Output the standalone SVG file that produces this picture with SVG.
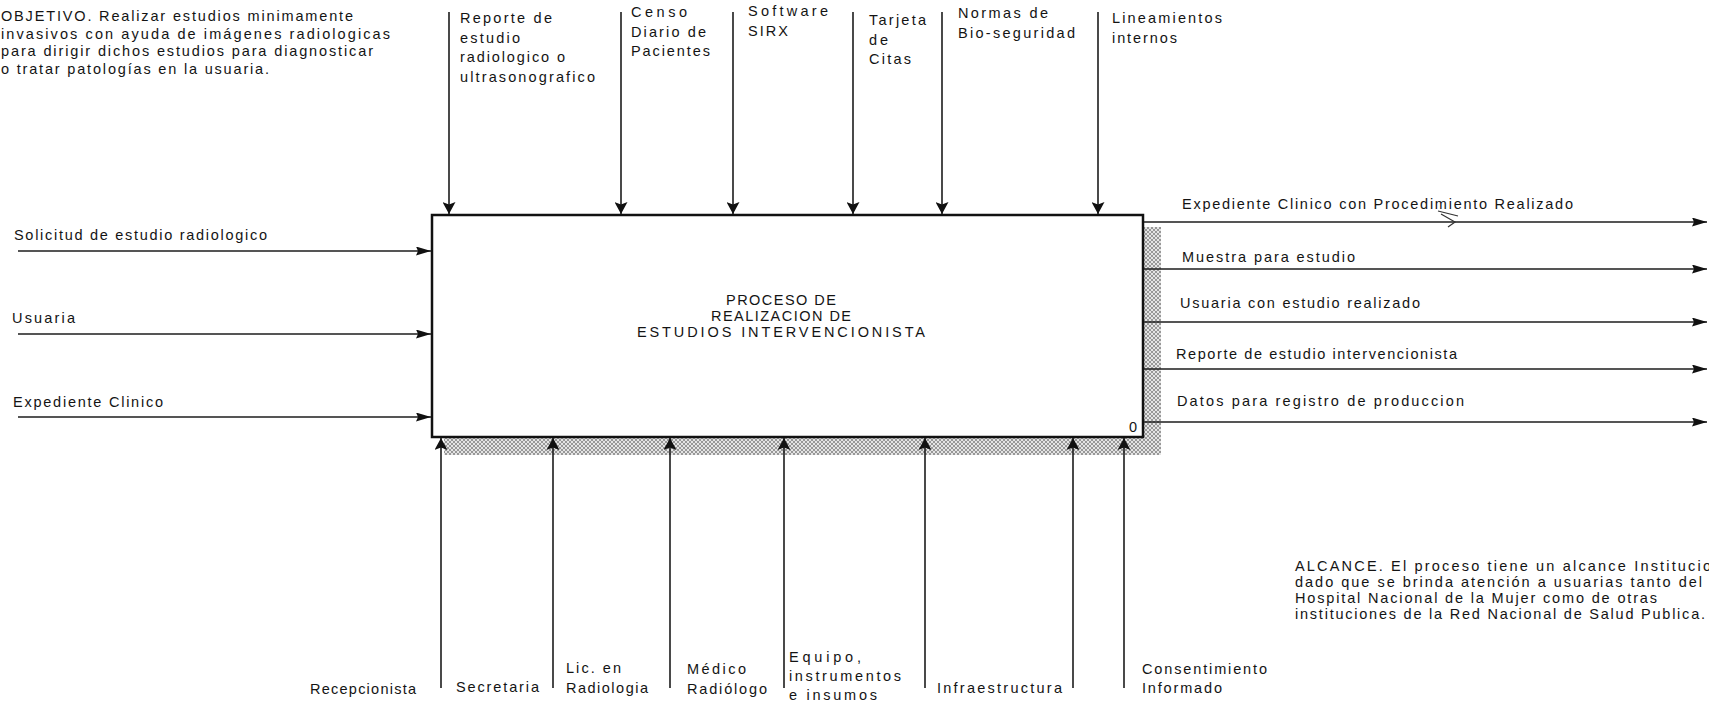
<svg xmlns="http://www.w3.org/2000/svg" width="1709" height="701" viewBox="0 0 1709 701">
<defs>
<style>
text { font-family: "Liberation Sans", Arial, sans-serif; font-size: 14.5px; fill: #141414; }
.ln { stroke: #1c1c1c; stroke-width: 1.6; fill: none; }
.box { fill: #ffffff; stroke: #111111; stroke-width: 2.5; }
.hatch { fill: url(#hatch); stroke: none; }
.mid { text-anchor: middle; }
</style>
<pattern id="hatch" width="4" height="4" patternUnits="userSpaceOnUse">
<rect width="4" height="4" fill="#e4e4e4"/>
<path d="M0,0 L4,4 M4,0 L0,4" stroke="#858585" stroke-width="0.8"/>
</pattern>
<marker id="arv" viewBox="0 0 12 13" refX="12" refY="6.5" markerWidth="12" markerHeight="13" markerUnits="userSpaceOnUse" orient="auto">
<path d="M0,0 L12,6.5 L0,13 L2.5,6.5 z" fill="#111111"/>
</marker>
<marker id="arh" viewBox="0 0 15 9" refX="15" refY="4.5" markerWidth="15" markerHeight="9" markerUnits="userSpaceOnUse" orient="auto">
<path d="M0,0 L15,4.5 L0,9 L2,4.5 z" fill="#111111"/>
</marker>
</defs>
<rect width="1709" height="701" fill="#ffffff"/>

<g id="objetivo">
<text x="1" y="21" textLength="352" lengthAdjust="spacing">OBJETIVO. Realizar estudios minimamente</text>
<text x="1" y="38.5" textLength="389" lengthAdjust="spacing">invasivos con ayuda de imágenes radiologicas</text>
<text x="1" y="56" textLength="372" lengthAdjust="spacing">para dirigir dichos estudios para diagnosticar</text>
<text x="1" y="73.5" textLength="268" lengthAdjust="spacing">o tratar patologías en la usuaria.</text>
</g>

<g id="alcance">
<text x="1295" y="571" textLength="416" lengthAdjust="spacing">ALCANCE. El proceso tiene un alcance Institucio</text>
<text x="1295" y="587" textLength="407" lengthAdjust="spacing">dado que se brinda atención a usuarias tanto del</text>
<text x="1295" y="603" textLength="362" lengthAdjust="spacing">Hospital Nacional de la Mujer como de otras</text>
<text x="1295" y="619" textLength="410" lengthAdjust="spacing">instituciones de la Red Nacional de Salud Publica.</text>
</g>

<g id="A0">
<rect class="hatch" x="1143" y="227" width="18" height="228"/>
<rect class="hatch" x="444" y="437" width="717" height="18"/>
<rect class="box" x="432" y="215" width="711" height="222"/>
<text class="mid" x="781" y="305" textLength="110" lengthAdjust="spacing">PROCESO DE</text>
<text class="mid" x="781" y="321" textLength="140" lengthAdjust="spacing">REALIZACION DE</text>
<text class="mid" x="781" y="337" textLength="288" lengthAdjust="spacing">ESTUDIOS INTERVENCIONISTA</text>
<text x="1129" y="432">0</text>
</g>

<g id="connectors">
<g id="controls">
<line class="ln" x1="449" y1="12" x2="449" y2="214" marker-end="url(#arv)"/>
<line class="ln" x1="621" y1="12" x2="621" y2="214" marker-end="url(#arv)"/>
<line class="ln" x1="733" y1="12" x2="733" y2="214" marker-end="url(#arv)"/>
<line class="ln" x1="853" y1="12" x2="853" y2="214" marker-end="url(#arv)"/>
<line class="ln" x1="942" y1="12" x2="942" y2="214" marker-end="url(#arv)"/>
<line class="ln" x1="1098" y1="12" x2="1098" y2="214" marker-end="url(#arv)"/>
</g>
<g id="mechanisms">
<line class="ln" x1="441" y1="688" x2="441" y2="438" marker-end="url(#arv)"/>
<line class="ln" x1="553" y1="688" x2="553" y2="438" marker-end="url(#arv)"/>
<line class="ln" x1="670" y1="688" x2="670" y2="438" marker-end="url(#arv)"/>
<line class="ln" x1="784" y1="688" x2="784" y2="438" marker-end="url(#arv)"/>
<line class="ln" x1="925" y1="688" x2="925" y2="438" marker-end="url(#arv)"/>
<line class="ln" x1="1073" y1="688" x2="1073" y2="438" marker-end="url(#arv)"/>
<line class="ln" x1="1124" y1="688" x2="1124" y2="438" marker-end="url(#arv)"/>
</g>
<g id="inputs">
<line class="ln" x1="18" y1="251" x2="431" y2="251" marker-end="url(#arh)"/>
<line class="ln" x1="18" y1="334" x2="431" y2="334" marker-end="url(#arh)"/>
<line class="ln" x1="18" y1="417" x2="431" y2="417" marker-end="url(#arh)"/>
</g>
<g id="outputs">
<line class="ln" x1="1144" y1="222" x2="1707" y2="222" marker-end="url(#arh)"/>
<line class="ln" x1="1144" y1="269" x2="1707" y2="269" marker-end="url(#arh)"/>
<line class="ln" x1="1144" y1="322" x2="1707" y2="322" marker-end="url(#arh)"/>
<line class="ln" x1="1144" y1="369" x2="1707" y2="369" marker-end="url(#arh)"/>
<line class="ln" x1="1144" y1="422" x2="1707" y2="422" marker-end="url(#arh)"/>
<path d="M1438,211 L1458,216 M1441,214 L1455,222 L1448,227" stroke="#333" stroke-width="1.2" fill="none"/>
</g>
<g id="labels">
<text x="460" y="23" textLength="92" lengthAdjust="spacing">Reporte de</text>
<text x="460" y="42.5" textLength="60" lengthAdjust="spacing">estudio</text>
<text x="460" y="62" textLength="105" lengthAdjust="spacing">radiologico o</text>
<text x="460" y="81.5" textLength="135" lengthAdjust="spacing">ultrasonografico</text>
<text x="631" y="16.5" textLength="56" lengthAdjust="spacing">Censo</text>
<text x="631" y="36.5" textLength="75" lengthAdjust="spacing">Diario de</text>
<text x="631" y="56" textLength="79" lengthAdjust="spacing">Pacientes</text>
<text x="748" y="16" textLength="80" lengthAdjust="spacing">Software</text>
<text x="748" y="36" textLength="40" lengthAdjust="spacing">SIRX</text>
<text x="869" y="24.5" textLength="57" lengthAdjust="spacing">Tarjeta</text>
<text x="869" y="44.5" textLength="19" lengthAdjust="spacing">de</text>
<text x="869" y="63.5" textLength="42" lengthAdjust="spacing">Citas</text>
<text x="958" y="18" textLength="90" lengthAdjust="spacing">Normas de</text>
<text x="958" y="37.5" textLength="117" lengthAdjust="spacing">Bio-seguridad</text>
<text x="1112" y="23" textLength="110" lengthAdjust="spacing">Lineamientos</text>
<text x="1112" y="42.5" textLength="65" lengthAdjust="spacing">internos</text>

<text x="14" y="240" textLength="253" lengthAdjust="spacing">Solicitud de estudio radiologico</text>
<text x="12" y="323" textLength="63" lengthAdjust="spacing">Usuaria</text>
<text x="13" y="407" textLength="150" lengthAdjust="spacing">Expediente Clinico</text>

<text x="1182" y="209" textLength="391" lengthAdjust="spacing">Expediente Clinico con Procedimiento Realizado</text>
<text x="1182" y="262" textLength="173" lengthAdjust="spacing">Muestra para estudio</text>
<text x="1180" y="308" textLength="240" lengthAdjust="spacing">Usuaria con estudio realizado</text>
<text x="1176" y="359" textLength="281" lengthAdjust="spacing">Reporte de estudio intervencionista</text>
<text x="1177" y="406" textLength="287" lengthAdjust="spacing">Datos para registro de produccion</text>

<text x="310" y="694" textLength="106" lengthAdjust="spacing">Recepcionista</text>
<text x="456" y="692" textLength="83" lengthAdjust="spacing">Secretaria</text>
<text x="566" y="673" textLength="55" lengthAdjust="spacing">Lic. en</text>
<text x="566" y="693" textLength="82" lengthAdjust="spacing">Radiologia</text>
<text x="687" y="674" textLength="59" lengthAdjust="spacing">Médico</text>
<text x="687" y="694" textLength="80" lengthAdjust="spacing">Radiólogo</text>
<text x="789" y="662" textLength="72" lengthAdjust="spacing">Equipo,</text>
<text x="789" y="681" textLength="112" lengthAdjust="spacing">instrumentos</text>
<text x="789" y="700" textLength="88" lengthAdjust="spacing">e insumos</text>
<text x="937" y="693" textLength="125" lengthAdjust="spacing">Infraestructura</text>
<text x="1142" y="674" textLength="125" lengthAdjust="spacing">Consentimiento</text>
<text x="1142" y="693" textLength="80" lengthAdjust="spacing">Informado</text>
</g>
</g>
</svg>
